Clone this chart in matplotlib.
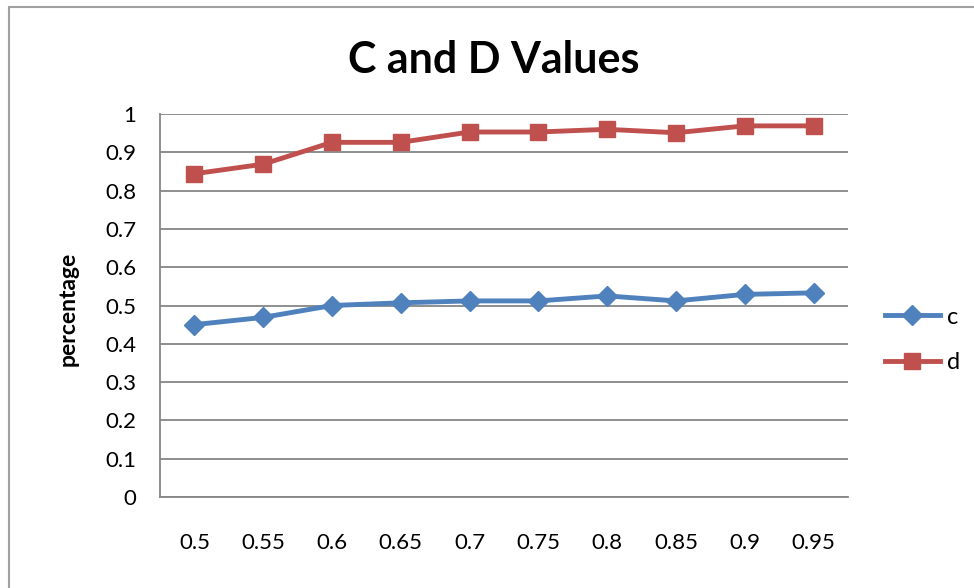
import matplotlib
matplotlib.use("Agg")
import matplotlib.pyplot as plt
from matplotlib.patches import Rectangle
from matplotlib.lines import Line2D

plt.rcParams["font.family"] = ["Lato", "DejaVu Sans"]

x_labels = ["0.5", "0.55", "0.6", "0.65", "0.7", "0.75", "0.8", "0.85", "0.9", "0.95"]
c_values = [0.45, 0.469, 0.50, 0.507, 0.512, 0.512, 0.525, 0.512, 0.529, 0.533]
d_values = [0.844, 0.869, 0.926, 0.926, 0.953, 0.953, 0.96, 0.951, 0.969, 0.969]
y_ticks = [0, 0.1, 0.2, 0.3, 0.4, 0.5, 0.6, 0.7, 0.8, 0.9, 1]

blue = "#4F81BD"
red = "#C0504D"
grid_col = "#868686"

fig = plt.figure(figsize=(9.74, 5.88), dpi=100)
# outer chart border (only left/top fall inside the image)
fig.patches.append(Rectangle((9 / 974, -0.05), 1.1, (588 - 7) / 588 + 0.05,
                             transform=fig.transFigure, fill=False,
                             edgecolor="#A0A0A0", linewidth=1.5))

ax = fig.add_axes([160 / 974, (588 - 497) / 588, 688 / 974, 383 / 588])
xs = list(range(len(x_labels)))

ax.plot(xs, c_values, color=blue, lw=3.5, marker="D", ms=10, label="c")
ax.plot(xs, d_values, color=red, lw=3.5, marker="s", ms=12, label="d")

ax.set_xlim(-0.5, len(x_labels) - 0.5)
ax.set_ylim(0, 1)
ax.set_yticks(y_ticks)
ax.set_yticklabels([f"{v:g}" for v in y_ticks])
ax.set_xticks(xs)
ax.set_xticklabels(x_labels)
ax.tick_params(length=0, labelsize=16)
ax.tick_params(axis="y", pad=17)
ax.tick_params(axis="x", pad=26)

ax.grid(axis="y", color=grid_col, lw=1.3)
ax.set_axisbelow(True)
for s in ["top", "right"]:
    ax.spines[s].set_visible(False)
for s in ["left", "bottom"]:
    ax.spines[s].set_color(grid_col)
    ax.spines[s].set_linewidth(1.3)

fig.text(68 / 974, 1 - 309 / 588, "percentage", rotation=90, fontsize=16.5,
         fontweight="bold", ha="center", va="center")
fig.text(494 / 974, 1 - 60 / 588, "C and D Values", fontsize=31,
         fontweight="bold", ha="center", va="center")

handles = [Line2D([], [], color=blue, lw=3.5, marker="D", ms=10),
           Line2D([], [], color=red, lw=3.5, marker="s", ms=12)]
fig.legend(handles, ["c", "d"], loc="center left",
           bbox_to_anchor=(864 / 974, 1 - 340 / 588), frameon=False,
           fontsize=17, handlelength=2.3, handletextpad=0.3, labelspacing=1.05)

fig.savefig("out.png", dpi=100)
